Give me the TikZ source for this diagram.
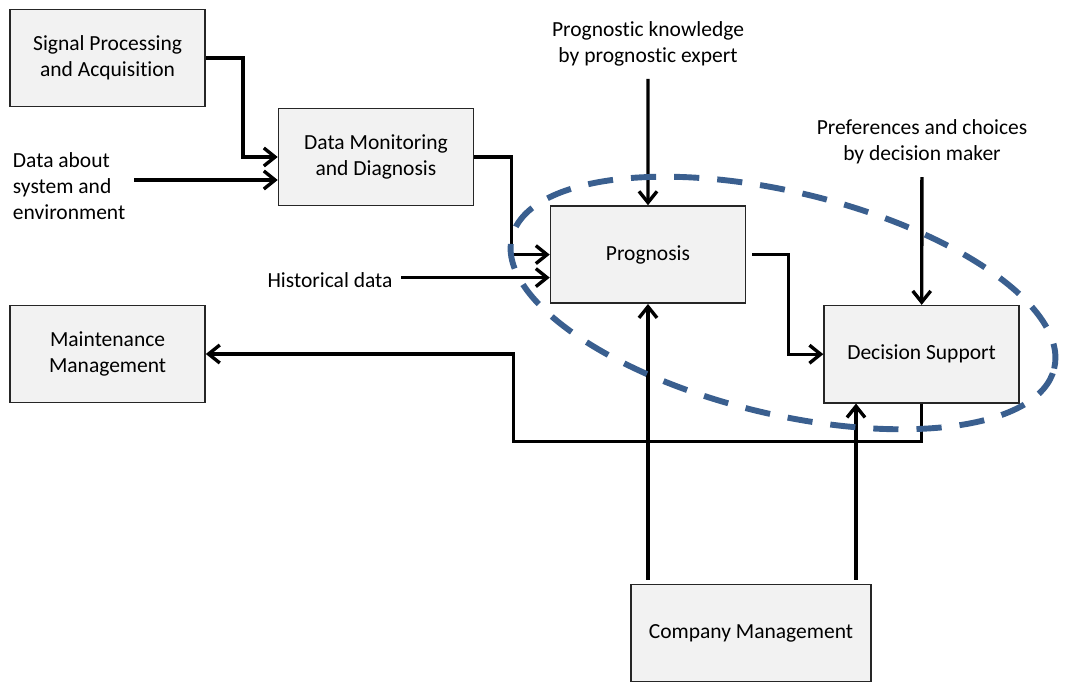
\documentclass[tikz,border=0pt]{standalone}
\usepackage{fontspec}
\setmainfont{Carlito}[Ligatures=NoCommon]
\usetikzlibrary{positioning,arrows.meta}
\definecolor{boxfill}{HTML}{F2F2F2}
\definecolor{ringblue}{HTML}{3A5F8F}
\begin{document}
\begin{tikzpicture}[
  block/.style={rectangle, draw=black!85, line width=1.1pt, fill=boxfill, minimum width=4.875cm, minimum height=2.43cm, align=center},
  wire/.style={line width=2.4pt},
  >={Straight Barb[length=0.28cm,width=0.45cm]},
  on grid,
  font=\fontsize{15.3}{18.4}\selectfont
]
\useasboundingbox (0,0) rectangle (26.75,-17.325);
\node[block] (sig) at (2.69,-1.45) {Signal Processing\\and Acquisition};
\node[block, below=7.4cm of sig] (maint) {Maintenance\\Management};
\node[block, below right=2.475cm and 6.71cm of sig] (dmd) {Data Monitoring\\and Diagnosis};
\node[block, below right=2.44cm and 6.8cm of dmd] (prog) {Prognosis};
\node[block, below right=2.49cm and 6.84cm of prog] (dec) {Decision Support};
\node[block, below right=9.46cm and 2.575cm of prog, minimum width=6cm] (comp) {Company Management};

\node[anchor=west, align=left] (sysdata) at (0.2,-4.65) {Data about\\system and\\environment};
\node (hist) at (8.25,-7.0) {Historical data};
\node[align=center] (progexp) at (16.2,-1.09) {Prognostic knowledge\\by prognostic expert};
\node[align=center] (prefs) at (23.05,-3.55) {Preferences and choices\\by decision maker};

\coordinate (dmd in) at ([yshift=-0.575cm]dmd.west);
\coordinate (prog in) at ([yshift=-0.575cm]prog.west);
\coordinate (dec in) at ([xshift=-1.64cm]dec.south);

\draw[->,wire] (sig.east) -- ++(0.925,0) |- (dmd.west);
\draw[->,wire,shorten <=0.1cm] (sysdata.east |- dmd in) -- (dmd in);
\draw[->,wire] (dmd.east) -- ++(0.925,0) |- (prog.west);
\draw[->,wire,shorten <=0.1cm] (hist.east |- prog in) -- (prog in);
\draw[->,wire,shorten <=0.2cm] (progexp) -- (prog);
\draw[->,wire,shorten <=0.2cm] (prefs) -- (dec);
\draw[->,wire,shorten <=0.15cm] (prog.east) -- ++(1.05,0) |- (dec.west);
\draw[->,wire] (dec.south) -- ++(0,-0.95) -- ++(-10.2,0) |- (maint.east);
\draw[->,wire,shorten <=0.1cm] (prog.south |- comp.north) -- (prog.south);
\draw[->,wire,shorten <=0.1cm] (dec in |- comp.north) -- (dec in);

% dashed ring round prognosis and decision support
\draw[ringblue, line width=4.2pt, dash pattern=on 0.63cm off 0.45cm,
  rotate around={-13.6:(19.575,-7.575)}] (19.575,-7.575) ellipse [x radius=6.975cm, y radius=2.775cm];
\end{tikzpicture}
\end{document}
